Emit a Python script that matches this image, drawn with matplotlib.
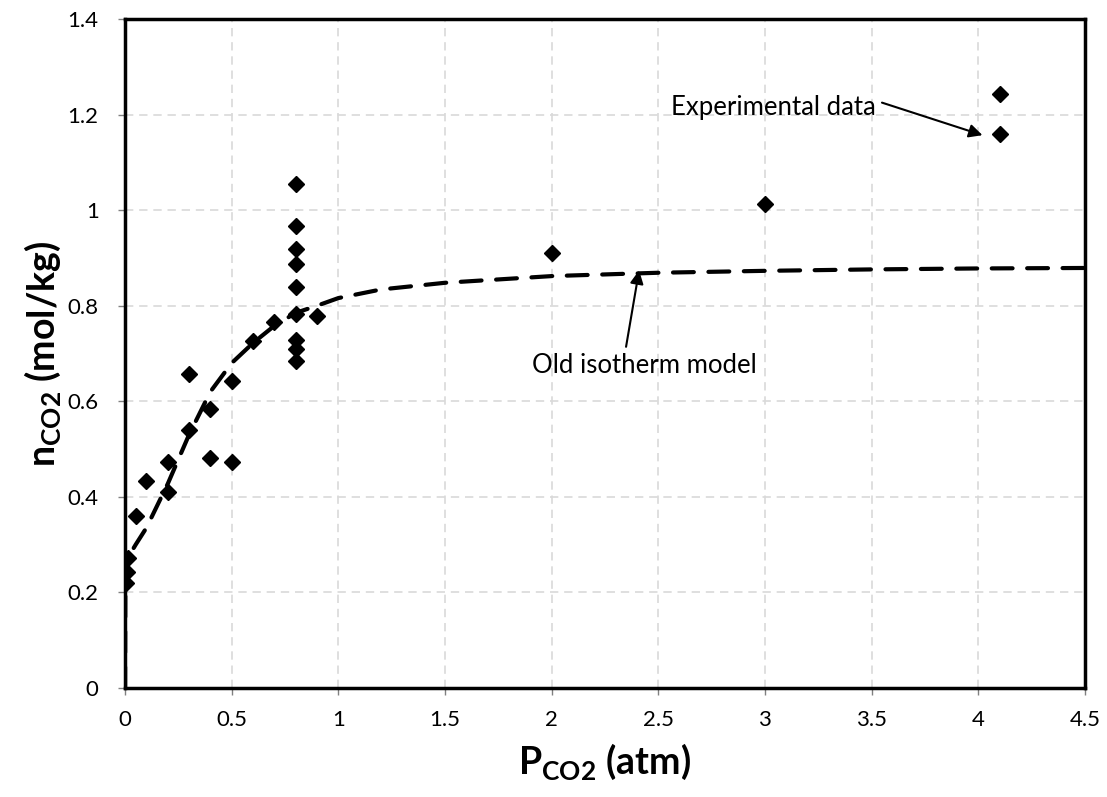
# CO2 adsorption isotherm: experimental points vs old isotherm model
import matplotlib.pyplot as plt

plt.rcParams['font.family'] = ['Lato', 'DejaVu Sans']
plt.rcParams['mathtext.fontset'] = 'custom'
plt.rcParams['mathtext.rm'] = 'Lato'
plt.rcParams['mathtext.bf'] = 'Lato:bold'

# experimental data (P in atm, n in mol/kg)
p_exp = [0.003, 0.008, 0.015, 0.05, 0.1, 0.2, 0.2, 0.3, 0.3, 0.4, 0.4, 0.5, 0.5,
         0.6, 0.7, 0.8, 0.8, 0.8, 0.8, 0.8, 0.8, 0.8, 0.8, 0.8, 0.9,
         2.0, 3.0, 4.1, 4.1]
n_exp = [0.219, 0.242, 0.272, 0.360, 0.432, 0.473, 0.409, 0.656, 0.540, 0.584, 0.481, 0.643, 0.473,
         0.727, 0.765, 1.054, 0.966, 0.919, 0.887, 0.840, 0.782, 0.729, 0.710, 0.684, 0.778,
         0.911, 1.013, 1.244, 1.159]

# old isotherm model curve
p_mod = [0, 0.001, 0.005, 0.01, 0.05, 0.1, 0.2, 0.3, 0.4, 0.5, 0.6, 0.7, 0.8, 0.9,
         1.0, 1.2, 1.5, 2.0, 2.5, 3.0, 3.5, 4.0, 4.5]
n_mod = [0, 0.20, 0.25, 0.27, 0.30, 0.335, 0.427, 0.53, 0.62, 0.68, 0.722, 0.758, 0.785, 0.80,
         0.816, 0.834, 0.848, 0.862, 0.869, 0.873, 0.876, 0.878, 0.879]

xticks = [0, 0.5, 1, 1.5, 2, 2.5, 3, 3.5, 4, 4.5]
xlabels = ['0', '0.5', '1', '1.5', '2', '2.5', '3', '3.5', '4', '4.5']
yticks = [0, 0.2, 0.4, 0.6, 0.8, 1.0, 1.2, 1.4]
ylabels = ['0', '0.2', '0.4', '0.6', '0.8', '1', '1.2', '1.4']

fig = plt.figure(figsize=(11.07, 7.97), dpi=100)
ax = fig.add_axes([0.113, 0.137, 0.867, 0.839])

ax.plot(p_mod, n_mod, color='black', lw=3, linestyle=(0, (5, 3.5)),
        dash_capstyle='round', zorder=3)
ax.plot(p_exp, n_exp, linestyle='none', marker='D', ms=8.5, color='black', zorder=4)

ax.set_xlim(0, 4.5)
ax.set_ylim(0, 1.4)
ax.set_xticks(xticks)
ax.set_xticklabels(xlabels)
ax.set_yticks(yticks)
ax.set_yticklabels(ylabels)
ax.tick_params(labelsize=16, direction='out', length=5, width=1, color='#808080')
ax.tick_params(axis='y', pad=14)
ax.tick_params(axis='x', pad=11)

ax.grid(True, color='#d9d9d9', linestyle=(0, (5, 3.5)), lw=1.2)
ax.set_axisbelow(True)
for s in ax.spines.values():
    s.set_linewidth(2.5)
    s.set_color('black')

ax.set_xlabel('P$_{\\mathbf{CO2}}$ (atm)', fontsize=27, fontweight='bold', labelpad=8)
ax.set_ylabel('n$_{\\mathbf{CO2}}$ (mol/kg)', fontsize=27, fontweight='bold', labelpad=3)

# annotations
ax.annotate('Experimental data', xy=(4.02, 1.157), xytext=(3.52, 1.199),
            fontsize=18.5, ha='right', va='baseline',
            arrowprops=dict(arrowstyle='-|>', color='black', lw=1.5, mutation_scale=20,
                            shrinkA=0, shrinkB=0, relpos=(1.03, 0.7)))
ax.annotate('Old isotherm model', xy=(2.41, 0.874), xytext=(2.96, 0.659),
            fontsize=18.5, ha='right', va='baseline',
            arrowprops=dict(arrowstyle='-|>', color='black', lw=1.5, mutation_scale=20,
                            shrinkA=0, shrinkB=0, relpos=(0.42, 1.25)))

plt.savefig('out.png', dpi=100)
